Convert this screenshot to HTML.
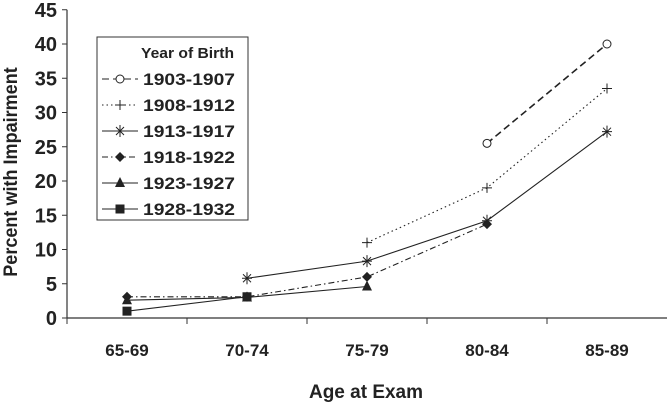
<!DOCTYPE html>
<html><head><meta charset="utf-8"><style>
body{margin:0;background:#fff;}
svg{display:block;font-family:"Liberation Sans",Arial,sans-serif;font-weight:bold;}
</style></head><body>
<svg id="chart" width="667" height="409" viewBox="0 0 667 409" xmlns="http://www.w3.org/2000/svg">
<g id="axes"></g>
<g id="series"></g>
<g id="legend">
<rect x="97" y="37" width="151" height="183" fill="#fff" stroke="#333" stroke-width="1"/>
</g>
<text x="0" y="0" transform="translate(17,172) rotate(-90) scale(0.95,1)" text-anchor="middle" font-size="19" fill="#222">Percent with Impairment</text>
<text x="366" y="398" text-anchor="middle" font-size="19" fill="#222">Age at Exam</text>
</svg>
<script>
const categories = ["65-69","70-74","75-79","80-84","85-89"];
const yTicks = [0,5,10,15,20,25,30,35,40,45];
const seriesNames = ["1903-1907","1908-1912","1913-1917","1918-1922","1923-1927","1928-1932"];
const s1903 = [null,null,null,25.5,40];
const s1908 = [null,null,11,19,33.5];
const s1913 = [null,5.8,8.3,14.2,27.2];
const s1918 = [3.1,3.1,6,13.7,null];
const s1923 = [2.6,3,4.6,null,null];
const s1928 = [1,3.1,null,null,null];
const allSeries = [s1903,s1908,s1913,s1918,s1923,s1928];
const dashes = ["7,4","1.5,3","","6,3,1.5,3","",""];
const markers = ["circle","plus","star","diamond","triangle","square"];

const NS="http://www.w3.org/2000/svg";
const x0=67, xw=120, y0=318, yu=6.85;
const xScale=i=>x0+xw*(i+0.5);
const yScale=v=>y0-v*yu;
function el(tag,attrs,parent){const e=document.createElementNS(NS,tag);for(const k in attrs)e.setAttribute(k,attrs[k]);parent.appendChild(e);return e;}
const axes=document.getElementById('axes'), sg=document.getElementById('series'), lg=document.getElementById('legend');

let a=el('line',{x1:x0,y1:yScale(45),x2:x0,y2:y0,stroke:'#333','stroke-width':1.2},axes);


a=el('line',{x1:x0,y1:y0,x2:x0+xw*5,y2:y0,stroke:'#333','stroke-width':1.2},axes);


yTicks.forEach(t=>{
  el('line',{x1:x0-5,y1:yScale(t),x2:x0,y2:yScale(t),stroke:'#333'},axes);
  const tx=el('text',{x:x0-10,y:yScale(t)+7,'text-anchor':'end','font-size':20,fill:'#222'},axes);
  tx.textContent=t;
  
  
});
categories.forEach((c,i)=>{
  el('line',{x1:x0+xw*i,y1:y0,x2:x0+xw*i,y2:y0+6,stroke:'#333'},axes);
  const tx=el('text',{x:xScale(i),y:y0+38,'text-anchor':'middle','font-size':17,fill:'#222'},axes);
  tx.textContent=c;
  
  
});

function marker(type,x,y,parent){
  let m;
  if(type==='circle') m=el('circle',{cx:x,cy:y,r:4,fill:'#fff',stroke:'#222','stroke-width':1},parent);
  else if(type==='plus') m=el('path',{d:`M${x-5},${y}H${x+5}M${x},${y-5}V${y+5}`,stroke:'#222','stroke-width':1,fill:'none'},parent);
  else if(type==='star') m=el('path',{d:`M${x-5},${y}H${x+5}M${x},${y-6}V${y+6}M${x-4},${y-4}L${x+4},${y+4}M${x+4},${y-4}L${x-4},${y+4}`,stroke:'#222','stroke-width':1,fill:'none'},parent);
  else if(type==='diamond') m=el('path',{d:`M${x},${y-5}L${x+5},${y}L${x},${y+5}L${x-5},${y}Z`,fill:'#222'},parent);
  else if(type==='triangle') m=el('path',{d:`M${x},${y-6}L${x+5},${y+4}L${x-5},${y+4}Z`,fill:'#222'},parent);
  else m=el('rect',{x:x-4.5,y:y-4.5,width:9,height:9,fill:'#222'},parent);
  return m;
}

allSeries.forEach((s,si)=>{
  const g=el('g',{},sg);
  
  
  const pts=[];
  s.forEach((v,i)=>{if(v!==null)pts.push([xScale(i),yScale(v)]);});
  const ln=el('polyline',{points:pts.map(p=>p.join(',')).join(' '),fill:'none',stroke:'#222','stroke-width':si===0?1.6:1.1},g);
  if(dashes[si]) ln.setAttribute('stroke-dasharray',dashes[si]);
  
  
  pts.forEach(p=>{
    const m=marker(markers[si],p[0],p[1],g);
    
    
  });
  const ly=79+si*26;
  const ll=el('line',{x1:102,y1:ly,x2:138,y2:ly,stroke:'#222','stroke-width':1.1},lg);
  if(dashes[si]) ll.setAttribute('stroke-dasharray',dashes[si]);
  const lm=marker(markers[si],120,ly,lg);
  
  
  const lt=el('text',{x:143,y:ly+6,'font-size':17,fill:'#222',textLength:92,lengthAdjust:'spacingAndGlyphs'},lg);
  lt.textContent=seriesNames[si];
  
  
});
const lh=el('text',{x:141,y:58,'font-size':15,fill:'#222',textLength:93,lengthAdjust:'spacingAndGlyphs'},lg);
lh.textContent='Year of Birth';


</script>
</body></html>
